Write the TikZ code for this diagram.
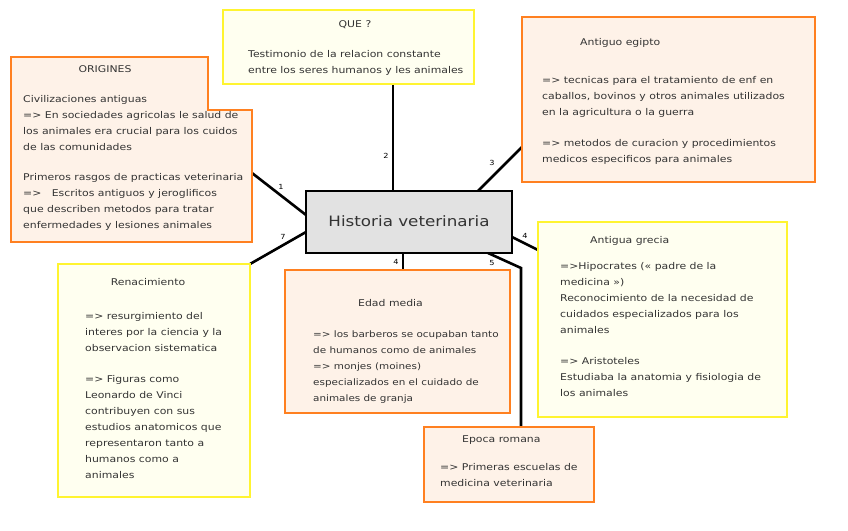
\documentclass[tikz,border=0pt]{standalone}
\usepackage{fontspec}
\setmainfont{DejaVu Sans}[FakeStretch=1.17]
\definecolor{obord}{HTML}{FF8020}
\definecolor{ofill}{HTML}{FEF2E8}
\definecolor{ybord}{HTML}{FFF430}
\definecolor{yfill}{HTML}{FFFFF0}
\definecolor{hfill}{HTML}{E2E2E2}
\definecolor{ink}{HTML}{333333}
\tikzset{
  obox/.style={draw=obord, fill=ofill, line width=2.6pt, inner sep=0pt},
  ybox/.style={draw=ybord, fill=yfill, line width=2.6pt, inner sep=0pt},
  hbox/.style={draw=black, fill=hfill, line width=2.6pt, inner sep=0pt},
  txt/.style={inner sep=0pt, anchor=north west, align=left, text=ink, font=\fontsize{9.3}{16}\selectfont},
  ttl/.style={inner sep=0pt, text=ink, font=\fontsize{9.3}{16}\selectfont},
  conn/.style={draw=black, line width=2.6pt},
  num/.style={inner sep=0pt, text=black, font=\fontsize{7}{8}\selectfont}
}
\begin{document}
\begin{tikzpicture}[x=1pt,y=-1pt]
\useasboundingbox (0,0) rectangle (848,530);
\fill[white] (0,0) rectangle (848,530);

% connector end points
\coordinate (a1) at (252,173);
\coordinate (b1) at (306,215);
\coordinate (a2) at (393,84);
\coordinate (b2) at (393,191);
\coordinate (a3) at (522,147);
\coordinate (b3) at (478,191);
\coordinate (a4) at (538,250);
\coordinate (b4) at (512,237);
\coordinate (b5) at (488,253);
\coordinate (m5) at (521,268);
\coordinate (a5) at (521,427);
\coordinate (b6) at (403,253);
\coordinate (a6) at (403,270);
\coordinate (b7) at (306,232);
\coordinate (a7) at (250,264);

\draw[conn] (a1) -- (b1);
\draw[conn] (a2) -- (b2);
\draw[conn] (a3) -- (b3);
\draw[conn] (a4) -- (b4);
\draw[conn] (b5) -- (m5) -- (a5);
\draw[conn] (b6) -- (a6);
\draw[conn] (b7) -- (a7);

% ORIGINES
\draw[obox] (11,57) -- (208,57) -- (208,110) -- (252,110) -- (252,242) -- (11,242) -- cycle;
\node[ttl] (orig) at (105,69) {ORIGINES};
\node[txt] (origt) at (23,95) {Civilizaciones antiguas\\
=> En sociedades agricolas le salud de\\
los animales era crucial para los cuidos\\
de las comunidades\\[14pt]
Primeros rasgos de practicas veterinaria\\
=> \ \ Escritos antiguos y jeroglificos\\
que describen metodos para tratar\\
enfermedades y lesiones animales};

% QUE ?
\node[ybox, minimum width=251pt, minimum height=74pt] (que) at (348.5,47) {};
\node[ttl] (quet) at (355,25) {QUE ?};
\node[txt] (queb) at (248,50) {Testimonio de la relacion constante\\
entre los seres humanos y les animales};

% Antiguo egipto
\node[obox, minimum width=293pt, minimum height=165pt] (egi) at (668.5,99.5) {};
\node[ttl, anchor=west] (egit) at (580,43) {Antiguo egipto};
\node[txt] (egib) at (542,76) {=> tecnicas para el tratamiento de enf en\\
caballos, bovinos y otros animales utilizados\\
en la agricultura o la guerra\\[15pt]
=> metodos de curacion y procedimientos\\
medicos especificos para animales};

% Historia veterinaria
\node[hbox, minimum width=206pt, minimum height=62pt] (hist) at (409,222) {};
\node[inner sep=0pt, text=ink, font=\fontsize{14.3}{16}\selectfont] (histt) at (409,221) {Historia veterinaria};

% Antigua grecia
\node[ybox, minimum width=249pt, minimum height=195pt] (gre) at (662.5,319.5) {};
\node[ttl, anchor=west] (gret) at (590,241) {Antigua grecia};
\node[txt] (greb) at (560,262) {=>Hipocrates (« padre de la\\
medicina »)\\
Reconocimiento de la necesidad de\\
cuidados especializados para los\\
animales\\[15pt]
=> Aristoteles\\
Estudiaba la anatomia y fisiologia de\\
los animales};

% Renacimiento
\node[ybox, minimum width=192pt, minimum height=233pt] (ren) at (154,380.5) {};
\node[ttl] (rent) at (148,282) {Renacimiento};
\node[txt] (renb) at (85,312) {=> resurgimiento del\\
interes por la ciencia y la\\
observacion sistematica\\[15pt]
=> Figuras como\\
Leonardo de Vinci\\
contribuyen con sus\\
estudios anatomicos que\\
representaron tanto a\\
humanos como a\\
animales};

% Edad media
\node[obox, minimum width=225pt, minimum height=143pt] (edad) at (397.5,341.5) {};
\node[ttl, anchor=west] (edadt) at (358,303) {Edad media};
\node[txt, font=\fontsize{8.9}{15.8}\selectfont] (edadb) at (313,331) {=> los barberos se ocupaban tanto\\
de humanos como de animales\\
=> monjes (moines)\\
especializados en el cuidado de\\
animales de granja};

% Epoca romana
\node[obox, minimum width=170pt, minimum height=75pt] (rom) at (509,464.5) {};
\node[ttl, anchor=west] (romt) at (462,440) {Epoca romana};
\node[txt] (romb) at (440,463) {=> Primeras escuelas de\\
medicina veterinaria};

% connector numbers
\node[num] (n1) at (281,187) {1};
\node[num] (n2) at (386,156) {2};
\node[num] (n3) at (492,163) {3};
\node[num] (n4) at (525,236) {4};
\node[num] (n5) at (492,263) {5};
\node[num] (n6) at (396,262) {4};
\node[num] (n7) at (283,237) {7};
\end{tikzpicture}
\end{document}
